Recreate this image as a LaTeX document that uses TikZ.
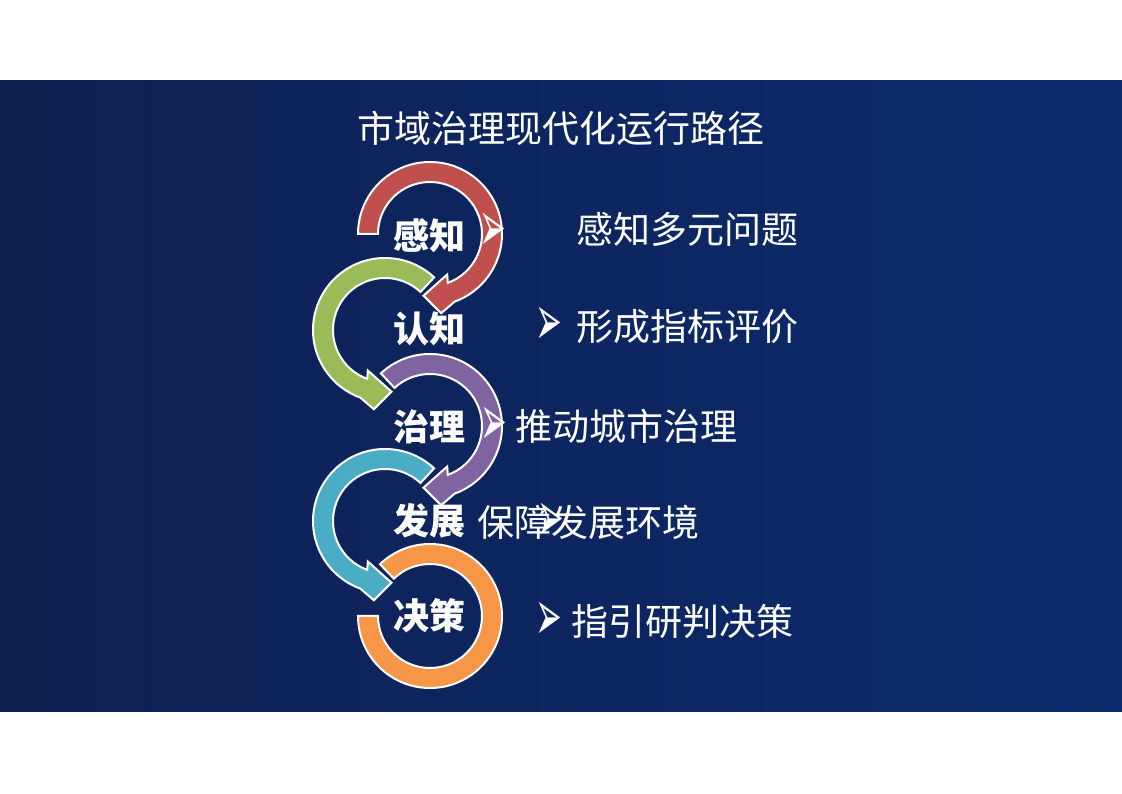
\documentclass[tikz,border=0pt]{standalone}
\usepackage{fontspec}
\newfontfamily\cjk{Noto Sans CJK SC}
\newfontfamily\dingfont{DejaVu Sans}
\definecolor{navyL}{HTML}{0F2052}
\definecolor{navyM}{HTML}{0C2B6E}
\definecolor{navyR}{HTML}{0B2B6E}
\definecolor{ringred}{HTML}{C0504D}
\definecolor{ringgreen}{HTML}{9BBB59}
\definecolor{ringpurple}{HTML}{8064A2}
\definecolor{ringcyan}{HTML}{4BACC6}
\definecolor{ringorange}{HTML}{F79646}

\begin{document}
\begin{tikzpicture}[x=1pt, y=1pt,
  ring/.style={draw=white, line width=2pt},
  stage/.style={text=white, inner sep=0pt, font=\cjk\bfseries\fontsize{36}{40}\selectfont},
  item/.style={text=white, inner sep=0pt, anchor=west, font=\cjk\fontsize{37}{40}\selectfont},
  arrowbullet/.style={text=white, inner sep=0pt, xscale=0.8, yscale=1.8, transform shape,
    font=\dingfont\fontsize{40}{44}\selectfont}]

  \useasboundingbox (0,0) rectangle (1122,793);
  \fill[white] (0,0) rectangle (1122,793);

  % Slide background
  \shade[left color=navyL, middle color=navyM, right color=navyR] (0,82) rectangle (1122,712);

  % Title
  \node[item, anchor=center] (title) at (561,665) {市域治理现代化运行路径};

  % Orange ring (no head)
  \begin{scope}[shift={(430,177)}]
    \filldraw[ring, fill=ringorange] (180:72) arc[start angle=180, end angle=494, radius=72]
      -- (134:52) arc[start angle=134, end angle=-180, radius=52] -- cycle;
  \end{scope}

  % Cyan ring, head at the bottom pointing right
  \begin{scope}[shift={(385,272)}]
    \filldraw[ring, fill=ringcyan] (47:72) arc[start angle=47, end angle=250, radius=72]
      -- (262:80) -- (276:62) -- (247:44) -- (250:52)
      arc[start angle=250, end angle=47, radius=52] -- cycle;
  \end{scope}

  % Purple ring, head at the bottom pointing left
  \begin{scope}[shift={(430,367)}]
    \filldraw[ring, fill=ringpurple] (133:72) arc[start angle=133, end angle=-70, radius=72]
      -- (-82:80) -- (-96:62) -- (-67:44) -- (-70:52)
      arc[start angle=-70, end angle=133, radius=52] -- cycle;
  \end{scope}

  % Green ring
  \begin{scope}[shift={(385,463)}]
    \filldraw[ring, fill=ringgreen] (47:72) arc[start angle=47, end angle=250, radius=72]
      -- (262:80) -- (276:62) -- (247:44) -- (250:52)
      arc[start angle=250, end angle=47, radius=52] -- cycle;
  \end{scope}

  % Red ring
  \begin{scope}[shift={(430,559)}]
    \filldraw[ring, fill=ringred] (180:72) arc[start angle=180, end angle=-70, radius=72]
      -- (-82:80) -- (-96:62) -- (-67:44) -- (-70:52)
      arc[start angle=-70, end angle=180, radius=52] -- cycle;
  \end{scope}

  % Stage labels
  \node[stage] (gz) at (429,557) {感知};
  \node[stage] (rz) at (429,464) {认知};
  \node[stage] (zl) at (429,366) {治理};
  \node[stage] (fz) at (429,272) {发展};
  \node[stage] (jc) at (429,177) {决策};

  % Items
  \node[item] (gzitem) at (576,564) {感知多元问题};
  \node[item] (rzitem) at (576,466) {形成指标评价};
  \node[item] (zlitem) at (515,367) {推动城市治理};
  \node[item] (fzitem) at (477,271) {保障发展环境};
  \node[item] (jcitem) at (571,172) {指引研判决策};

  % Bullets
  \node[arrowbullet] (gzb) at (493,561) {➢};
  \node[arrowbullet] (rzb) at (549,467) {➢};
  \node[arrowbullet] (zlb) at (494,367) {➢};
  \node[arrowbullet] (fzb) at (551,271) {➢};
  \node[arrowbullet] (jcb) at (549,172) {➢};

\end{tikzpicture}
\end{document}
